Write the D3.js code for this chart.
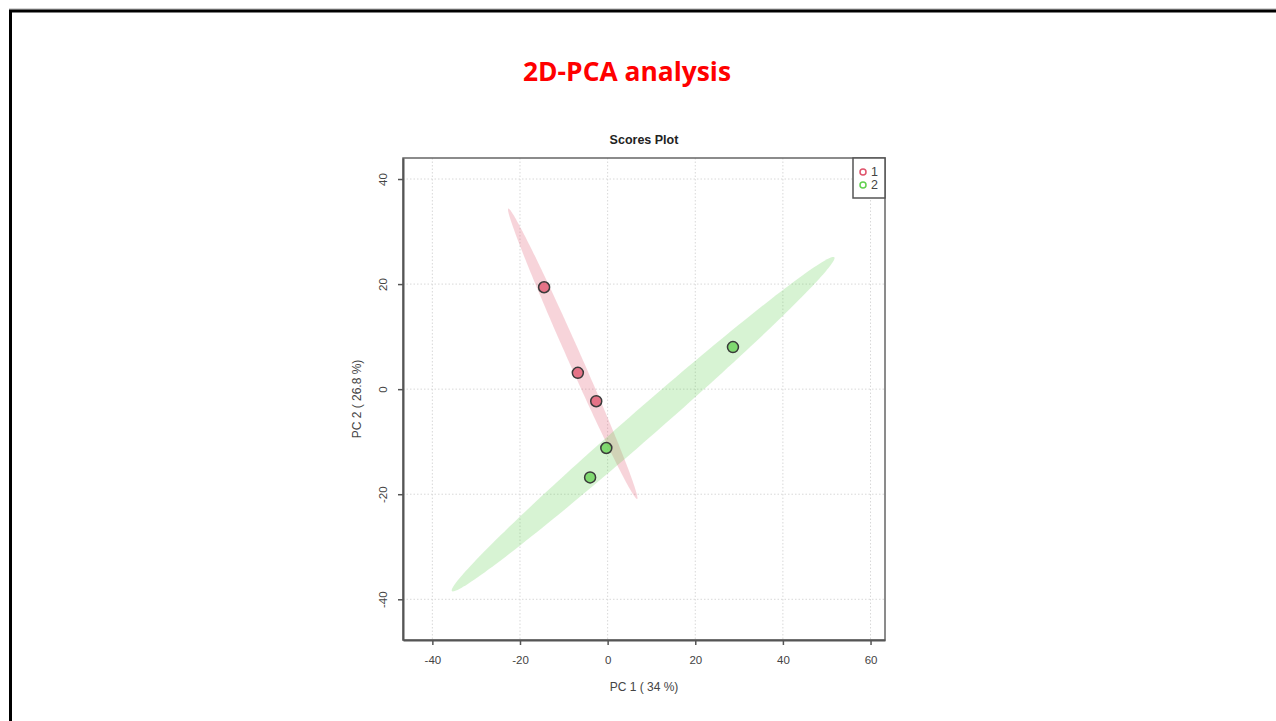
<!DOCTYPE html>
<html>
<head>
<meta charset="utf-8">
<script src="https://cdn.jsdelivr.net/npm/d3@7"></script>
<style>
  body { margin: 0; background: #fff; }
  svg { display: block; }
</style>
</head>
<body>
<svg id="slide"></svg>
<script>
const W = 1276, H = 721
const PLOT = { left: 403, right: 885, top: 158, bottom: 640 }

// scores
const GROUPS = ["1", "2"]
const COLORS = ["#DF536B", "#61D04F"]
const PC1_G1 = [-14.5, -6.8, -2.6]
const PC2_G1 = [19.4, 3.1, -2.3]
const PC1_G2 = [28.6, -0.3, -4.0]
const PC2_G2 = [8.0, -11.2, -16.8]
const X_TICKS = [-40, -20, 0, 20, 40, 60]
const Y_TICKS = [-40, -20, 0, 20, 40]
const X_DOMAIN = [-46.7, 63.3]
const Y_DOMAIN = [-47.75, 44]

const svg = d3.select('#slide').attr('width', W).attr('height', H)

// slide frame
svg.append('line').attr('x1', 9).attr('x2', W).attr('y1', 9).attr('y2', 9)
    .attr('stroke', '#aaa').attr('stroke-width', 1)
svg.append('path').attr('d', `M10.5,${H} V11 H${W}`)
    .attr('fill', 'none').attr('stroke', '#000').attr('stroke-width', 3)

svg.append('text').attr('x', 627).attr('y', 81)
    .attr('text-anchor', 'middle')
    .attr('font-family', 'Open Sans, sans-serif').attr('font-weight', 700)
    .attr('font-size', 27).attr('fill', '#FF0000')
    .attr('textLength', 208).attr('lengthAdjust', 'spacingAndGlyphs')
    .text('2D-PCA analysis')

const x = d3.scaleLinear().domain(X_DOMAIN).range([PLOT.left, PLOT.right])
const y = d3.scaleLinear().domain(Y_DOMAIN).range([PLOT.bottom, PLOT.top])

const groups = [
    { name: GROUPS[0], color: COLORS[0], pts: PC1_G1.map((v, i) => [v, PC2_G1[i]]) },
    { name: GROUPS[1], color: COLORS[1], pts: PC1_G2.map((v, i) => [v, PC2_G2[i]]) }
]

// 95% ellipse from the covariance of each group
function ellipse(pts){
    const n = pts.length
    const mx = d3.mean(pts, d => d[0]), my = d3.mean(pts, d => d[1])
    let sxx = 0, syy = 0, sxy = 0
    pts.forEach(p => {
        sxx += (p[0]-mx)**2; syy += (p[1]-my)**2; sxy += (p[0]-mx)*(p[1]-my)
    })
    sxx /= n-1; syy /= n-1; sxy /= n-1
    const tr = (sxx + syy)/2, det = Math.sqrt(((sxx - syy)/2)**2 + sxy*sxy)
    const l1 = tr + det, l2 = Math.max(tr - det, 0)
    const ang = Math.atan2(l1 - sxx, sxy)
    const t = Math.sqrt(5.991465)
    return d3.range(0, 361, 2).map(a => {
        const r = a * Math.PI/180
        const u = t*Math.sqrt(l1)*Math.cos(r), v = t*Math.sqrt(l2)*Math.sin(r)
        return [mx + u*Math.cos(ang) - v*Math.sin(ang), my + u*Math.sin(ang) + v*Math.cos(ang)]
    })
}

const plot = svg.append('g')

// grid
plot.selectAll('.gx').data(X_TICKS).join('line')
    .attr('x1', d => x(d)).attr('x2', d => x(d))
    .attr('y1', PLOT.top).attr('y2', PLOT.bottom)
    .attr('stroke', '#d8d8d8').attr('stroke-dasharray', '1.5,2')
plot.selectAll('.gy').data(Y_TICKS).join('line')
    .attr('y1', d => y(d)).attr('y2', d => y(d))
    .attr('x1', PLOT.left).attr('x2', PLOT.right)
    .attr('stroke', '#d8d8d8').attr('stroke-dasharray', '1.5,2')

const line = d3.line().x(d => x(d[0])).y(d => y(d[1])).curve(d3.curveLinearClosed)

plot.selectAll('.ell').data(groups).join('path')
    .attr('d', d => line(ellipse(d.pts)))
    .attr('fill', d => d.color).attr('fill-opacity', 0.25)

groups.forEach(g => {
    plot.selectAll(null).data(g.pts).join('circle')
        .attr('cx', d => x(d[0])).attr('cy', d => y(d[1])).attr('r', 5.5)
        .attr('fill', g.color).attr('fill-opacity', 0.75)
        .attr('stroke', '#3a3a3a').attr('stroke-width', 1.5)
})

// box and axes
svg.append('rect').attr('x', PLOT.left).attr('y', PLOT.top)
    .attr('width', PLOT.right - PLOT.left).attr('height', PLOT.bottom - PLOT.top)
    .attr('fill', 'none').attr('stroke', '#666').attr('stroke-width', 1.5)

const fmt = d => String(d)
const xAxis = svg.append('g').attr('transform', `translate(0,${PLOT.bottom})`)
    .call(d3.axisBottom(x).tickValues(X_TICKS).tickFormat(fmt).tickSize(5).tickSizeOuter(0).tickPadding(11))
const yAxis = svg.append('g').attr('transform', `translate(${PLOT.left},0)`)
    .call(d3.axisLeft(y).tickValues(Y_TICKS).tickFormat(fmt).tickSize(5).tickSizeOuter(0).tickPadding(8))

;[xAxis, yAxis].forEach(a => {
    a.select('.domain').attr('stroke', '#555').attr('stroke-width', 2)
    a.selectAll('.tick line').attr('stroke', '#555').attr('stroke-width', 1.5)
    a.selectAll('.tick text').attr('fill', '#444')
        .attr('font-family', 'Liberation Sans, Arial, sans-serif').attr('font-size', 11.5)
})
yAxis.selectAll('.tick text')
    .attr('text-anchor', 'middle').attr('x', 0).attr('dy', 0)
    .attr('transform', 'translate(-16,0) rotate(-90)')

svg.append('text').attr('x', 644).attr('y', 691).attr('text-anchor', 'middle')
    .attr('font-family', 'Liberation Sans, Arial, sans-serif').attr('font-size', 12)
    .attr('fill', '#444').text('PC 1 ( 34 %)')
svg.append('text').attr('transform', `translate(361,${(PLOT.top + PLOT.bottom)/2}) rotate(-90)`)
    .attr('text-anchor', 'middle')
    .attr('font-family', 'Liberation Sans, Arial, sans-serif').attr('font-size', 12)
    .attr('fill', '#444').text('PC 2 ( 26.8 %)')
svg.append('text').attr('x', 644).attr('y', 144).attr('text-anchor', 'middle')
    .attr('font-family', 'Liberation Sans, Arial, sans-serif').attr('font-size', 12.5)
    .attr('font-weight', 700).attr('fill', '#222').text('Scores Plot')

// legend
const leg = svg.append('g')
leg.append('rect').attr('x', 853).attr('y', PLOT.top).attr('width', PLOT.right - 853).attr('height', 40)
    .attr('fill', '#fff').attr('stroke', '#555').attr('stroke-width', 1.5)
leg.selectAll('circle').data(groups).join('circle')
    .attr('cx', 863).attr('cy', (d, i) => 172 + i*13).attr('r', 3)
    .attr('fill', 'none').attr('stroke', d => d.color).attr('stroke-width', 1.5)
leg.selectAll('text').data(groups).join('text')
    .attr('x', 871).attr('y', (d, i) => 176 + i*13)
    .attr('font-family', 'Liberation Sans, Arial, sans-serif').attr('font-size', 12.5)
    .attr('fill', '#444').text(d => d.name)
</script>
</body>
</html>
